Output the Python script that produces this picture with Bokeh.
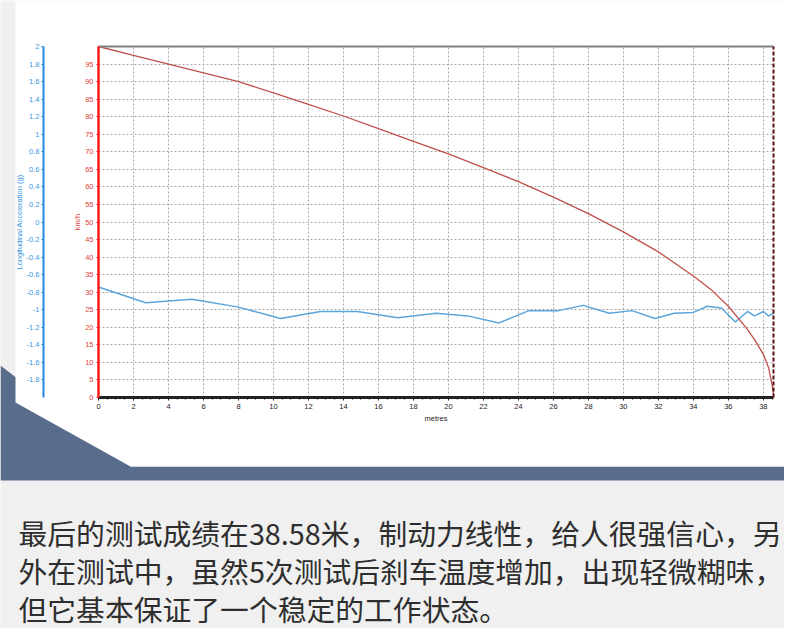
from bokeh.plotting import figure
from bokeh.models import (Range1d, LinearAxis, FixedTicker, NumeralTickFormatter,
                          Label, Grid)
from bokeh.embed import file_html
from bokeh.resources import INLINE

# speed over the braking distance
dist_speed = [0, 2, 4, 6, 8, 10, 12, 14, 16, 18, 20, 22, 24, 26, 28, 30, 32, 34,
              35, 36, 37, 37.5, 38, 38.3, 38.5, 38.58]
speed = [100, 97.5, 95, 92.5, 90, 86.8, 83.5, 80.2, 76.6, 73, 69.4, 65.5, 61.5, 57.1,
         52.4, 47.2, 41.5, 34.6, 30.8, 26, 20, 16.5, 12.3, 8.5, 3.5, 1]

# longitudinal acceleration (g) over the same run
dist_acc = [0, 2.7, 4.0, 5.35, 8.0, 10.4, 12.7, 14.8, 17.1, 19.3, 21.1, 22.9, 24.6, 26.3,
            27.7, 29.2, 30.5, 31.8, 32.9, 34.0, 34.8, 35.6, 36.4, 37.1, 37.5, 38.0, 38.3, 38.58]
acc = [-0.74, -0.92, -0.90, -0.88, -0.97, -1.10, -1.02, -1.02, -1.09, -1.04, -1.07, -1.15,
       -1.01, -1.01, -0.95, -1.04, -1.01, -1.10, -1.04, -1.03, -0.96, -0.98, -1.14, -1.02,
       -1.07, -1.02, -1.07, -1.04]

dist_ticks = [0, 2, 4, 6, 8, 10, 12, 14, 16, 18, 20, 22, 24, 26, 28, 30, 32, 34, 36, 38]
speed_ticks = [0, 5, 10, 15, 20, 25, 30, 35, 40, 45, 50, 55, 60, 65, 70, 75, 80, 85, 90, 95]
acc_ticks = [-1.8, -1.6, -1.4, -1.2, -1, -0.8, -0.6, -0.4, -0.2, 0,
             0.2, 0.4, 0.6, 0.8, 1, 1.2, 1.4, 1.6, 1.8, 2]

caption = [
    "最后的测试成绩在38.58米，制动力线性，给人很强信心，另",
    "外在测试中，虽然5次测试后刹车温度增加，出现轻微糊味，",
    "但它基本保证了一个稳定的工作状态。",
]

X_MAX, V_MAX, G_MIN, G_MAX = 38.58, 100, -2, 2

# canvas size and where the chart area sits on it (pixels)
W, H = 784, 628
LEFT, RIGHT, TOP, BOTTOM = 98, 773, 46, 397

FONT = "Liberation Sans"
RED = "#ff1a1a"
BLUE = "#1e88e5"

# the frame fills the whole canvas, so the page decoration can be drawn too;
# ranges are stretched so the data lands on the chart area
mx = X_MAX / (RIGHT - LEFT)
mv = V_MAX / (BOTTOM - TOP)
mg = (G_MAX - G_MIN) / (BOTTOM - TOP)
p = figure(width=W, height=H, output_backend="svg", toolbar_location=None,
           x_range=Range1d(-LEFT * mx, X_MAX + (W - RIGHT) * mx),
           y_range=Range1d(-(H - BOTTOM) * mv, V_MAX + TOP * mv),
           x_axis_type=None, y_axis_type=None, min_border=0,
           border_fill_color="#f0f0f0", background_fill_color="#f0f0f0",
           outline_line_color=None)
p.min_border_left = p.min_border_right = p.min_border_top = p.min_border_bottom = 0
p.extra_y_ranges = {"acc": Range1d(G_MIN - (H - BOTTOM) * mg, G_MAX + TOP * mg),
                    "py": Range1d(H, 0)}
p.extra_x_ranges = {"px": Range1d(0, W)}

# page decoration: slate band and the white card with its cut corner
p.patches(xs=[[0, 130, 785, 785, 800, 800, 0], [15, 785, 785, 130, 15]],
          ys=[[365, 466, 466, 421, 421, 480, 480], [0, 0, 466, 466, 402]],
          fill_color=["#5a6c8c", "white"], line_color=None,
          x_range_name="px", y_range_name="py", level="image")

# grid, kept inside the chart area
dotted = dict(grid_line_color="#a8a8a8", grid_line_dash="2 2", grid_line_width=1)
if "cross_bounds" in Grid.properties():
    p.add_layout(Grid(dimension=0, ticker=FixedTicker(ticks=dist_ticks),
                      bounds=(0, X_MAX), cross_bounds=(0, V_MAX), **dotted))
    p.add_layout(Grid(dimension=1, ticker=FixedTicker(ticks=speed_ticks),
                      bounds=(0, V_MAX), cross_bounds=(0, X_MAX), **dotted))
else:
    p.segment(x0=dist_ticks, x1=dist_ticks, y0=0, y1=V_MAX, line_color="#a8a8a8",
              line_dash="2 2", level="underlay")
    p.segment(x0=0, x1=X_MAX, y0=speed_ticks, y1=speed_ticks, line_color="#a8a8a8",
              line_dash="2 2", level="underlay")


def style(ax, color, label_color):
    ax.axis_line_color = color
    ax.major_tick_line_color = color
    ax.minor_tick_line_color = color
    ax.major_tick_in = 0
    ax.minor_tick_in = 0
    ax.major_label_text_color = label_color
    ax.major_label_text_font = FONT
    ax.major_label_text_font_size = "7.5px"
    ax.axis_label_text_color = label_color
    ax.axis_label_text_font = FONT
    ax.axis_label_text_font_size = "7.5px"
    ax.axis_label_text_font_style = "normal"


# km/h axis
ya = LinearAxis(fixed_location=0, bounds=(0, V_MAX), ticker=FixedTicker(ticks=speed_ticks),
                axis_label="km/h")
style(ya, RED, "#e04040")
ya.axis_line_width = 2.5
ya.major_tick_out = 2
ya.minor_tick_out = 0
ya.major_label_standoff = 3
ya.axis_label_standoff = 0
p.add_layout(ya, "left")

# acceleration axis, further left
ga = LinearAxis(y_range_name="acc", fixed_location=(43 - LEFT) * mx, bounds=(G_MIN, G_MAX),
                ticker=FixedTicker(ticks=acc_ticks),
                formatter=NumeralTickFormatter(format="0.[0]"),
                axis_label="Longitudinal Acceleration (g)")
style(ga, BLUE, "#3a96de")
ga.axis_line_width = 2
ga.major_tick_out = 2
ga.minor_tick_out = 0
ga.major_label_standoff = 2
ga.axis_label_standoff = 0
p.add_layout(ga, "left")

# metres axis
xa = LinearAxis(fixed_location=0, bounds=(0, X_MAX),
                ticker=FixedTicker(ticks=dist_ticks, minor_ticks=[i * 0.5 for i in range(78)]),
                axis_label="metres")
style(xa, "#222222", "#222222")
xa.axis_line_width = 3
xa.major_tick_out = 3
xa.minor_tick_out = 2
xa.major_label_standoff = 3
xa.axis_label_standoff = 2
p.add_layout(xa, "below")

# frame edges: grey top, dashed right
top = LinearAxis(fixed_location=V_MAX, bounds=(0, X_MAX), ticker=FixedTicker(ticks=[]),
                 axis_line_color="#808080", axis_line_width=2, major_tick_out=0,
                 minor_tick_out=0, major_label_text_font_size="0px")
p.add_layout(top, "above")
right = LinearAxis(fixed_location=X_MAX, bounds=(0, V_MAX), ticker=FixedTicker(ticks=[]),
                   axis_line_color="#5a1010", axis_line_width=2, axis_line_dash="4 2",
                   major_tick_out=0, minor_tick_out=0, major_label_text_font_size="0px")
p.add_layout(right, "right")

p.line(dist_acc, acc, y_range_name="acc", line_color="#5aa5dc", line_width=1.5)
p.line(dist_speed, speed, line_color="#c0504d", line_width=1.3)

for i, line in enumerate(caption):
    p.add_layout(Label(x=18, y=532 + 38 * i, x_units="canvas", y_units="canvas",
                       text=line, text_font="Noto Sans CJK SC", text_font_size="28.8px",
                       text_color="#2e2e2e", text_baseline="middle"))

open("out.html", "w").write(file_html(p, INLINE))
